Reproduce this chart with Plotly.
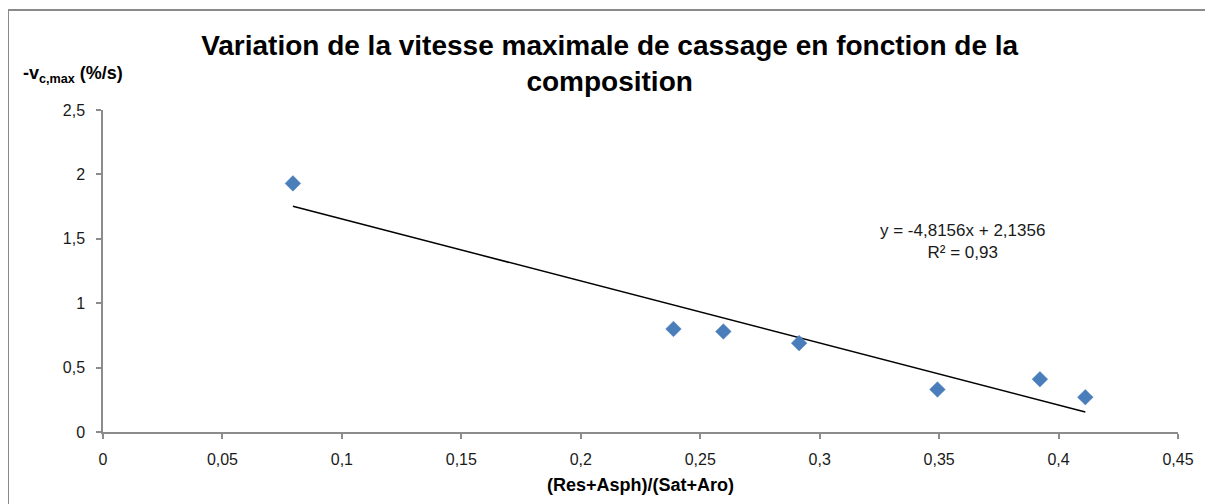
import numpy as np
import plotly.graph_objects as go

# Data
ratio = [0.0795, 0.2388, 0.2597, 0.2914, 0.3493, 0.3922, 0.4112]
vmax = [1.93, 0.80, 0.78, 0.69, 0.33, 0.41, 0.27]
slope = -4.8156
intercept = 2.1356
r2_text = "R² = 0,93"
eq_text = "y = -4,8156x + 2,1356"

title = "Variation de la vitesse maximale de cassage en fonction de la<br>composition"
x_title = "(Res+Asph)/(Sat+Aro)"
y_title = "-v<sub>c,max</sub> (%/s)"

W, H = 1213, 504
L, R, T, B = 95, 43, 102, 80
pw, ph = W - L - R, H - T - B

def px(xp):
    return (xp - L) / pw

def py(yp):
    return (H - B - yp) / ph

fig = go.Figure()

xs = np.array([min(ratio), max(ratio)])
fig.add_trace(go.Scatter(
    x=xs, y=slope * xs + intercept, mode="lines",
    line=dict(color="black", width=1.5), hoverinfo="skip", showlegend=False))

fig.add_trace(go.Scatter(
    x=ratio, y=vmax, mode="markers",
    marker=dict(symbol="diamond", size=12, color="#4A7EBB",
                line=dict(color="#4A7EBB", width=0.5)),
    showlegend=False))

font_family = "Liberation Sans, Arial, sans-serif"

fig.update_layout(
    width=W, height=H,
    margin=dict(l=L, r=R, t=T, b=B),
    paper_bgcolor="white", plot_bgcolor="white",
    separators=", ",
    font=dict(family=font_family, color="#1a1a1a"),
    title=dict(text="<b>" + title + "</b>", x=0.496, xanchor="center",
               y=1 - 47 / H, yanchor="top",
               font=dict(size=28, color="black", family=font_family)),
    xaxis=dict(range=[0, 0.45], dtick=0.05, tick0=0, showgrid=False, zeroline=False,
               showline=True, linecolor="#8c8c8c", linewidth=1.5,
               ticks="outside", ticklen=5, tickcolor="#8c8c8c", tickwidth=1.5,
               ticklabelstandoff=7,
               tickfont=dict(size=16, color="#1a1a1a")),
    yaxis=dict(range=[0, 2.5], dtick=0.5, tick0=0, showgrid=False, zeroline=False,
               showline=True, linecolor="#8c8c8c", linewidth=1.5,
               ticks="outside", ticklen=5, tickcolor="#8c8c8c", tickwidth=1.5,
               ticklabelstandoff=8,
               tickfont=dict(size=16, color="#1a1a1a")),
    shapes=[dict(type="rect", xref="paper", yref="paper",
                 x0=px(0), x1=px(W + 20), y0=py(H + 20), y1=py(2),
                 line=dict(color="#8a8a8a", width=2), layer="below")],
    annotations=[
        dict(text="<b>" + y_title + "</b>", xref="paper", yref="paper",
             x=px(13), y=py(66), xanchor="left", yanchor="middle",
             showarrow=False, font=dict(size=18, color="black")),
        dict(text="<b>" + x_title + "</b>", xref="paper", yref="paper",
             x=0.5, y=py(477), xanchor="center", yanchor="middle",
             showarrow=False, font=dict(size=18, color="black")),
        dict(text=eq_text + "<br>" + r2_text, xref="x", yref="y",
             x=0.3597, y=1.48, xanchor="center", yanchor="middle", align="center",
             showarrow=False, font=dict(size=17, color="#1a1a1a")),
    ],
)

fig.write_html("out.html")
